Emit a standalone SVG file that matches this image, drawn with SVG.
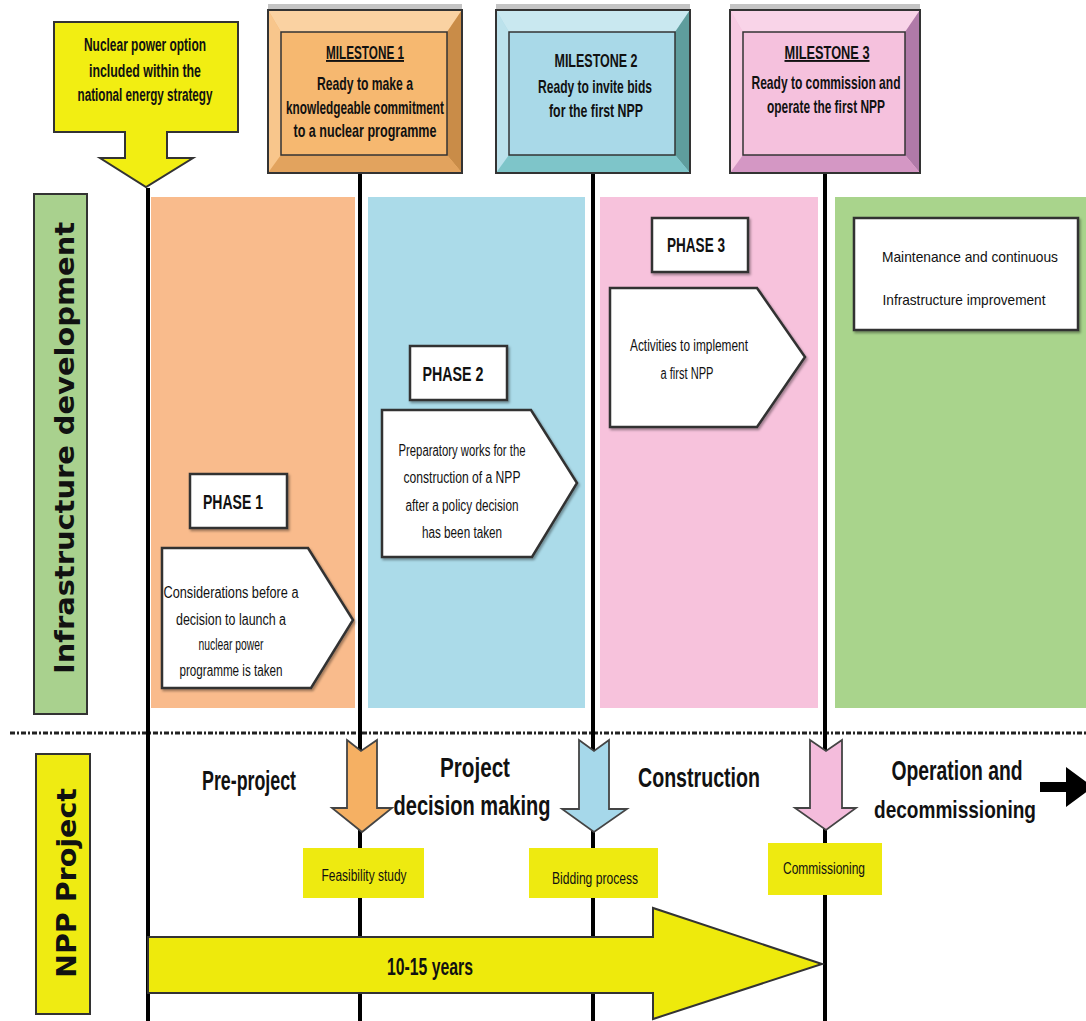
<svg xmlns="http://www.w3.org/2000/svg" width="1086" height="1021" viewBox="0 0 1086 1021">
<defs>
<style>
.t{font-family:"Liberation Sans",Arial,sans-serif;fill:#111;text-anchor:middle}
.b{font-weight:bold}
.ms{font-size:19px;font-weight:bold}
.cal{font-size:18px;font-weight:bold}
.ph{font-size:21px;font-weight:bold}
.desc{font-size:16px}
.big{font-size:27px;font-weight:bold}
.lab{font-size:16px}
.vlab{font-family:"DejaVu Sans",Verdana,sans-serif;font-weight:bold;font-size:27px;fill:#111;text-anchor:middle}
.vline{stroke:#000;stroke-width:4}
.wbox{fill:#fff;stroke:#333;stroke-width:2.5}
.ybox{fill:#eeea10}
.dn{stroke:#444;stroke-width:1.8}
</style>
<filter id="sh" x="-10%" y="-10%" width="130%" height="130%">
<feDropShadow dx="1.5" dy="2" stdDeviation="1.2" flood-color="#000" flood-opacity="0.35"/>
</filter>
</defs>
<rect width="1086" height="1021" fill="#fff"/>

<!-- panels -->
<g id="panels">
<rect x="151" y="197" width="204" height="511" fill="#f9bb8c"/>
<rect x="368" y="197" width="217" height="511" fill="#abdbe9"/>
<rect x="600" y="197" width="218" height="511" fill="#f7c2dc"/>
<rect x="835" y="197" width="251" height="511" fill="#a9d48c"/>
</g>

<!-- side labels -->
<g id="infra-label">
<rect x="34" y="194" width="53" height="520" fill="#a9d18e" stroke="#333" stroke-width="2"/>
<text class="vlab" transform="translate(74,448) rotate(-90)" textLength="452" lengthAdjust="spacingAndGlyphs">Infrastructure development</text>
</g>
<g id="npp-label">
<rect x="36" y="754" width="54" height="260" fill="#efeb12" stroke="#333" stroke-width="2"/>
<text class="vlab" transform="translate(76,883) rotate(-90)" textLength="190" lengthAdjust="spacingAndGlyphs">NPP Project</text>
</g>

<!-- separator -->
<line x1="10" y1="733" x2="1086" y2="733" stroke="#222" stroke-width="3" stroke-dasharray="5 2 2 2"/>

<!-- connectors: vertical timeline lines -->
<g id="connectors">
<line class="vline" x1="148" y1="188" x2="148" y2="1021"/>
<line class="vline" x1="360" y1="172" x2="360" y2="1021"/>
<line class="vline" x1="593" y1="172" x2="593" y2="1021"/>
<line class="vline" x1="825" y1="172" x2="825" y2="1021"/>
<path d="M1040,782 H1066 V767 L1093,787 L1066,807 V792 H1040 Z" fill="#000"/>
</g>

<!-- callout -->
<g id="callout">
<path d="M54,22 H238 V132 H167 V158 H193 L146,187 L100,158 H125 V132 H54 Z" fill="#f2ee12" stroke="#333" stroke-width="2"/>
<text class="t cal" x="145" y="51" textLength="122" lengthAdjust="spacingAndGlyphs">Nuclear power option</text>
<text class="t cal" x="145" y="77" textLength="112" lengthAdjust="spacingAndGlyphs">included within the</text>
<text class="t cal" x="145" y="101" textLength="135" lengthAdjust="spacingAndGlyphs">national energy strategy</text>
</g>

<!-- milestone 1 -->
<g id="milestone1">
<rect x="268" y="4" width="194" height="7" fill="#c4c4c4"/>
<rect x="268" y="10" width="194" height="163" fill="#f6b870"/>
<polygon points="268,10 462,10 447,32 281,32" fill="#fad2a2"/>
<polygon points="268,10 281,32 281,155 268,173" fill="#f8c68c"/>
<polygon points="462,10 447,32 447,155 462,173" fill="#c98c48"/>
<polygon points="268,173 281,155 447,155 462,173" fill="#e2a35e"/>
<rect x="268" y="10" width="194" height="163" fill="none" stroke="#333" stroke-width="2"/>
<rect x="281" y="32" width="166" height="123" fill="#f6b870" stroke="#333" stroke-width="1.5"/>
<text class="t ms" x="365" y="59" textLength="78" lengthAdjust="spacingAndGlyphs" text-decoration="underline">MILESTONE 1</text>
<text class="t ms" x="365" y="90" textLength="96" lengthAdjust="spacingAndGlyphs">Ready to make a</text>
<text class="t ms" x="365" y="114" textLength="158" lengthAdjust="spacingAndGlyphs">knowledgeable commitment</text>
<text class="t ms" x="365" y="137" textLength="143" lengthAdjust="spacingAndGlyphs">to a nuclear programme</text>
</g>

<!-- milestone 2 -->
<g id="milestone2">
<rect x="496" y="4" width="194" height="7" fill="#c4c4c4"/>
<rect x="496" y="10" width="194" height="163" fill="#a9d9e8"/>
<polygon points="496,10 690,10 675,32 509,32" fill="#c9e8f0"/>
<polygon points="496,10 509,32 509,155 496,173" fill="#bce2ec"/>
<polygon points="690,10 675,32 675,155 690,173" fill="#5f9d9d"/>
<polygon points="496,173 509,155 675,155 690,173" fill="#7ec5c9"/>
<rect x="496" y="10" width="194" height="163" fill="none" stroke="#333" stroke-width="2"/>
<rect x="509" y="32" width="166" height="123" fill="#a9d9e8" stroke="#333" stroke-width="1.5"/>
<text class="t ms" x="596" y="67" textLength="83" lengthAdjust="spacingAndGlyphs">MILESTONE 2</text>
<text class="t ms" x="595" y="93" textLength="114" lengthAdjust="spacingAndGlyphs">Ready to invite bids</text>
<text class="t ms" x="596" y="117" textLength="94" lengthAdjust="spacingAndGlyphs">for the  first NPP</text>
</g>

<!-- milestone 3 -->
<g id="milestone3">
<rect x="730" y="4" width="190" height="7" fill="#c4c4c4"/>
<rect x="730" y="10" width="190" height="163" fill="#f5c1dd"/>
<polygon points="730,10 920,10 905,32 743,32" fill="#f9d4e8"/>
<polygon points="730,10 743,32 743,155 730,173" fill="#f7cae2"/>
<polygon points="920,10 905,32 905,155 920,173" fill="#b07aa8"/>
<polygon points="730,173 743,155 905,155 920,173" fill="#d497c4"/>
<rect x="730" y="10" width="190" height="163" fill="none" stroke="#333" stroke-width="2"/>
<rect x="743" y="32" width="162" height="123" fill="#f5c1dd" stroke="#333" stroke-width="1.5"/>
<text class="t ms" x="827" y="59" textLength="85" lengthAdjust="spacingAndGlyphs" text-decoration="underline">MILESTONE  3</text>
<text class="t ms" x="826" y="89" textLength="149" lengthAdjust="spacingAndGlyphs">Ready to commission and</text>
<text class="t ms" x="826" y="113" textLength="118" lengthAdjust="spacingAndGlyphs">operate the first NPP</text>
</g>

<!-- phase 1 -->
<g id="phase1">
<rect class="wbox" x="190" y="474" width="97" height="54" filter="url(#sh)"/>
<text class="t ph" x="233" y="509" textLength="60" lengthAdjust="spacingAndGlyphs">PHASE 1</text>
<path class="wbox" d="M162,548 H308 L353,620 L311,688 H162 Z" filter="url(#sh)"/>
<text class="t desc" x="231" y="598" textLength="135" lengthAdjust="spacingAndGlyphs">Considerations before a</text>
<text class="t desc" x="231" y="625" textLength="110" lengthAdjust="spacingAndGlyphs">decision to launch a</text>
<text class="t desc" x="231" y="650" textLength="65" lengthAdjust="spacingAndGlyphs">nuclear power</text>
<text class="t desc" x="231" y="676" textLength="103" lengthAdjust="spacingAndGlyphs">programme is taken</text>
</g>

<!-- phase 2 -->
<g id="phase2">
<rect class="wbox" x="410" y="346" width="97" height="54" filter="url(#sh)"/>
<text class="t ph" x="453" y="381" textLength="61" lengthAdjust="spacingAndGlyphs">PHASE 2</text>
<path class="wbox" d="M382,410 H531 L577,483 L532,557 H382 Z" filter="url(#sh)"/>
<text class="t desc" x="462" y="456" textLength="127" lengthAdjust="spacingAndGlyphs">Preparatory works for the</text>
<text class="t desc" x="462" y="483" textLength="117" lengthAdjust="spacingAndGlyphs">construction of a NPP</text>
<text class="t desc" x="462" y="511" textLength="113" lengthAdjust="spacingAndGlyphs">after a policy decision</text>
<text class="t desc" x="462" y="538" textLength="80" lengthAdjust="spacingAndGlyphs">has been taken</text>
</g>

<!-- phase 3 -->
<g id="phase3">
<rect class="wbox" x="652" y="218" width="96" height="54" filter="url(#sh)"/>
<text class="t ph" x="696" y="252" textLength="58" lengthAdjust="spacingAndGlyphs">PHASE 3</text>
<path class="wbox" d="M610,288 H757 L805,357 L757,427 H610 Z" filter="url(#sh)"/>
<text class="t desc" x="689" y="351" textLength="118" lengthAdjust="spacingAndGlyphs">Activities to implement</text>
<text class="t desc" x="687" y="379" textLength="53" lengthAdjust="spacingAndGlyphs">a first NPP</text>
</g>

<!-- maintenance -->
<g id="maintenance">
<rect class="wbox" x="854" y="218" width="224" height="112" filter="url(#sh)"/>
<text class="t" style="font-size:15px" x="970" y="262" textLength="176" lengthAdjust="spacingAndGlyphs">Maintenance and continuous</text>
<text class="t" style="font-size:15px" x="964" y="305" textLength="163" lengthAdjust="spacingAndGlyphs">Infrastructure  improvement</text>
</g>

<!-- stage texts -->
<g id="stages">
<text class="t big" x="249" y="790" textLength="94" lengthAdjust="spacingAndGlyphs">Pre-project</text>
<text class="t big" x="475" y="777" textLength="70" lengthAdjust="spacingAndGlyphs">Project</text>
<text class="t big" x="472" y="815" textLength="157" lengthAdjust="spacingAndGlyphs">decision making</text>
<text class="t big" x="699" y="787" textLength="122" lengthAdjust="spacingAndGlyphs">Construction</text>
<text class="t big" x="957" y="780" textLength="131" lengthAdjust="spacingAndGlyphs">Operation and</text>
<text class="t big" style="font-size:24px" x="955" y="818" textLength="162" lengthAdjust="spacingAndGlyphs">decommissioning</text>
</g>

<!-- down arrows -->
<g id="arrow-m1">
<path class="dn" d="M347,740 L361,751 L377,740 V808 H392 L362,832 L332,808 H347 Z" fill="#f5b063"/>
</g>
<g id="arrow-m2">
<path class="dn" d="M579,740 L594,751 L609,740 V809 H627 L594,832 L562,809 H579 Z" fill="#a6d8ea"/>
</g>
<g id="arrow-m3">
<path class="dn" d="M810,740 L826,751 L842,740 V808 H856 L826,830 L795,808 H810 Z" fill="#f4bcdc"/>
</g>

<!-- bottom labels -->
<g id="feasibility">
<rect class="ybox" x="303" y="848" width="121" height="50"/>
<text class="t lab" x="364" y="881" textLength="85" lengthAdjust="spacingAndGlyphs">Feasibility study</text>
</g>
<g id="bidding">
<rect class="ybox" x="529" y="848" width="129" height="50"/>
<text class="t lab" x="595" y="884" textLength="86" lengthAdjust="spacingAndGlyphs">Bidding process</text>
</g>
<g id="commissioning">
<rect class="ybox" x="768" y="843" width="114" height="52"/>
<text class="t lab" x="824" y="874" textLength="82" lengthAdjust="spacingAndGlyphs">Commissioning</text>
</g>

<!-- duration arrow -->
<g id="duration">
<path d="M148,937 H653 V908 L822,964 L653,1019 V993 H148 Z" fill="#eeea0c" stroke="#333" stroke-width="2"/>
<text class="t b" style="font-size:24px" x="430" y="975" textLength="86" lengthAdjust="spacingAndGlyphs">10-15 years</text>
</g>
</svg>
